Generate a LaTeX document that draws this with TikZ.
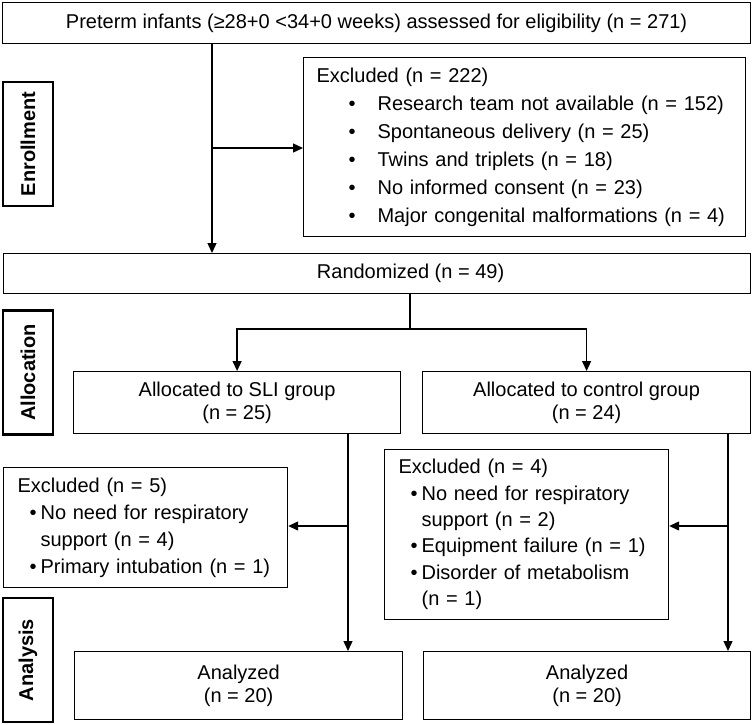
\documentclass[tikz,border=0pt]{standalone}
\usepackage{fontspec}
\setmainfont{Liberation Sans}
\usepackage{tikz}
\usetikzlibrary{positioning,arrows.meta,calc}

\newcommand{\bul}[2]{\hspace*{#1}\makebox[#2][l]{\textbullet}}

\begin{document}
\begin{tikzpicture}[x=1pt, y=-1pt,
    box/.style={rectangle, draw, line width=1.2pt, anchor=north west, inner sep=0pt, align=center, font=\fontsize{20}{23}\selectfont},
    listbox/.style={box, align=left, inner xsep=14pt, font=\fontsize{20}{27}\selectfont},
    phase/.style={rectangle, draw, line width=2.8pt, rotate=90, minimum width=124pt, minimum height=50pt, inner sep=0pt, font=\fontsize{20}{23}\selectfont\bfseries},
    link/.style={-{Triangle[length=10pt, width=9pt]}, line width=1.3pt}]
    \useasboundingbox (0,0) rectangle (752,724);

    % enrollment
    \node[box, minimum width=748pt, minimum height=41pt] (screen) at (2,2) {Preterm infants (≥28+0 <34+0 weeks) assessed for eligibility (n = 271)};
    \node[listbox, text width=416pt, minimum height=179pt, inner xsep=13pt, font=\fontsize{20}{28}\selectfont] (excl) at (303,57) {Excluded (n = 222)\\
        \bul{32pt}{29pt}Research team not available (n = 152)\\
        \bul{32pt}{29pt}Spontaneous delivery (n = 25)\\
        \bul{32pt}{29pt}Twins and triplets (n = 18)\\
        \bul{32pt}{29pt}No informed consent (n = 23)\\
        \bul{32pt}{29pt}Major congenital malformations (n = 4)};
    \node[box, minimum width=747pt, minimum height=40pt] (rand) at (3,253) {\hspace*{67pt}Randomized (n = 49)};

    % allocation
    \node[box, minimum width=327pt, minimum height=62pt] (sli) at (73,371) {Allocated to SLI group\\(n = 25)};
    \node[box, minimum width=328pt, minimum height=62pt] (ctl) at (422,371) {Allocated to control group\\(n = 24)};

    % follow-up exclusions
    \node[listbox, text width=256pt, minimum height=120pt] (exsli) at (3,467) {Excluded (n = 5)\\
        \bul{12pt}{11pt}No need for respiratory\\
        \hspace*{23pt}support (n = 4)\\
        \bul{12pt}{11pt}Primary intubation (n = 1)};
    \node[listbox, text width=256pt, minimum height=170pt, font=\fontsize{20}{26.4}\selectfont] (exctl) at (384,449) {Excluded (n = 4)\\
        \bul{12pt}{11pt}No need for respiratory\\
        \hspace*{23pt}support (n = 2)\\
        \bul{12pt}{11pt}Equipment failure (n = 1)\\
        \bul{12pt}{11pt}Disorder of metabolism\\
        \hspace*{23pt}(n = 1)};

    % analysis
    \node[box, minimum width=328pt, minimum height=68pt] (anasli) at (74,651) {Analyzed\\(n = 20)};
    \node[box, minimum width=327pt, minimum height=68pt] (anactl) at (423,651) {Analyzed\\(n = 20)};

    % phase labels
    \node[phase] (enrol) at (28,144) {Enrollment};
    \node[phase] (alloc) at (28,372.5) {Allocation};
    \node[phase] (anal) at (28,660) {Analysis};

    % connectors
    \coordinate (trunk) at (212,148);
    \draw[link] (screen.south -| trunk) -- (rand.north -| trunk);
    \draw[link] (trunk) -- (excl.west |- trunk);
    \coordinate (split) at (410,329);
    \draw[line width=1.3pt] (rand.south -| split) -- (split);
    \draw[link] (split) -| (sli.north);
    \draw[link] (split) -| (ctl.north);
    \coordinate (slidrop) at (348,526);
    \draw[link] (sli.south -| slidrop) -- (anasli.north -| slidrop);
    \draw[link] (slidrop) -- (exsli.east |- slidrop);
    \coordinate (ctldrop) at (728,526);
    \draw[link] (ctl.south -| ctldrop) -- (anactl.north -| ctldrop);
    \draw[link] (ctldrop) -- (exctl.east |- ctldrop);
\end{tikzpicture}
\end{document}
